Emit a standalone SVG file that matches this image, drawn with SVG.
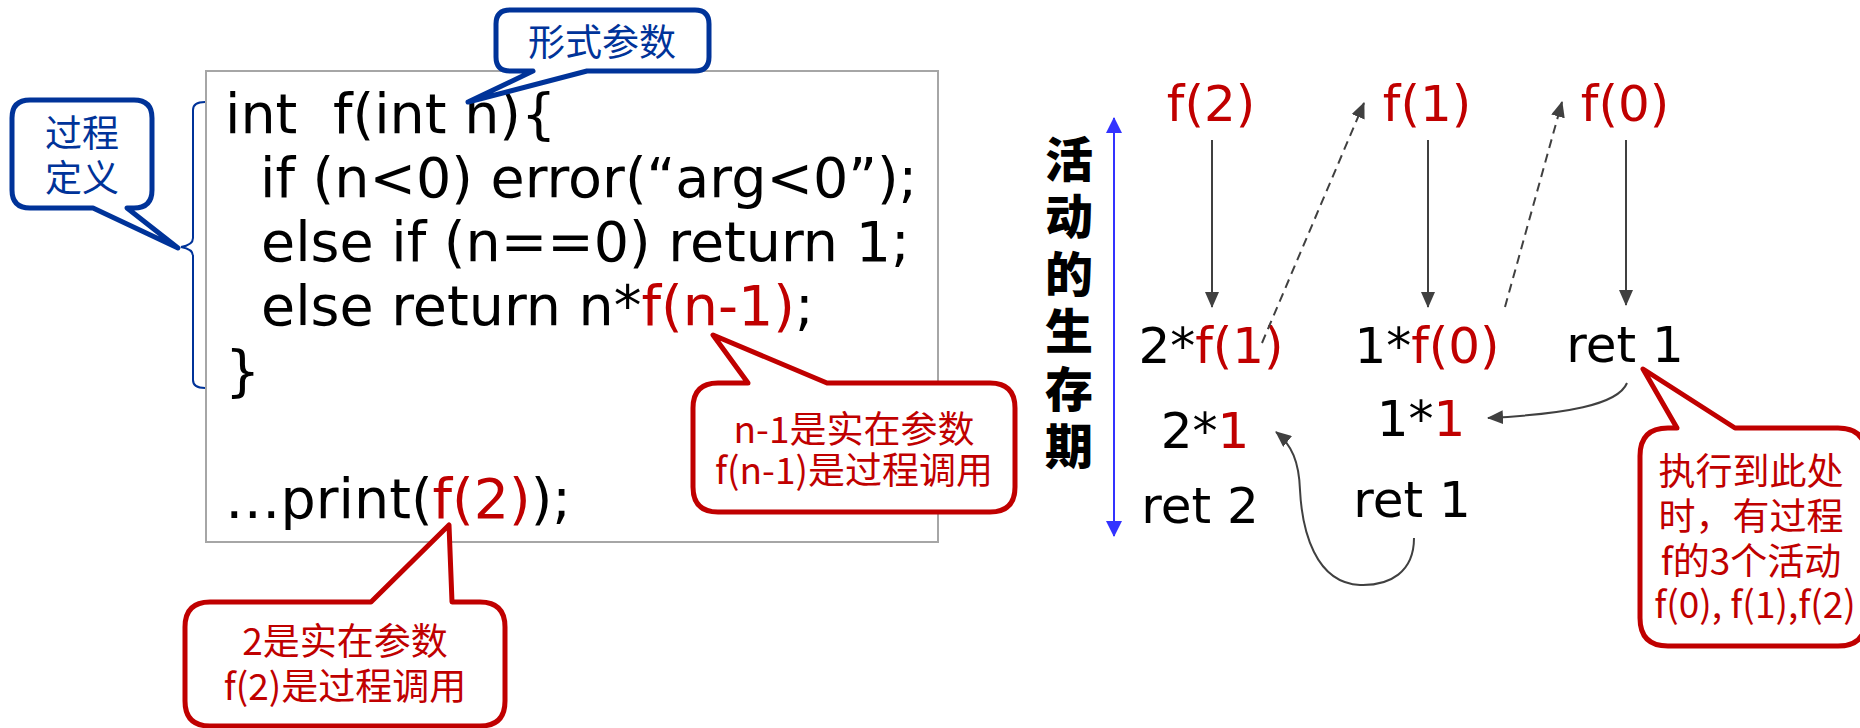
<svg xmlns="http://www.w3.org/2000/svg" width="1860" height="728" viewBox="0 0 1860 728">
<style>
.code{font-family:"DejaVu Sans",Verdana,sans-serif;font-size:55.5px;fill:#000}
.lbl{font-family:"DejaVu Sans",Verdana,sans-serif;font-size:50px;fill:#000}
.red{fill:#c00000}
.bt{font-family:"Noto Sans CJK SC",sans-serif;font-size:37px;fill:#003399;text-anchor:middle}
.rt{font-family:"Noto Sans CJK SC",sans-serif;font-size:37px;fill:#c00000;text-anchor:middle}
.vt{font-family:"Noto Sans CJK SC",sans-serif;font-size:48px;font-weight:900;fill:#000;text-anchor:middle}
.bc{fill:#fff;stroke:#003399;stroke-width:5;stroke-linejoin:round}
.rc{fill:#fff;stroke:#c00000;stroke-width:5;stroke-linejoin:round}
.con{fill:none;stroke:#404040;stroke-width:2}
.dash{stroke-dasharray:9 6}
</style>
<defs>
<marker id="ah" viewBox="0 0 16 14" refX="15" refY="7" markerWidth="16" markerHeight="14" orient="auto" markerUnits="userSpaceOnUse"><path d="M0,0 L16,7 L0,14 Z" fill="#404040"/></marker>
<marker id="bh" viewBox="0 0 16 16" refX="15" refY="8" markerWidth="16" markerHeight="16" orient="auto-start-reverse" markerUnits="userSpaceOnUse"><path d="M0,0 L16,8 L0,16 Z" fill="#3333ff"/></marker>
</defs>

<g id="code">
<rect x="206" y="71" width="732" height="471" fill="#fff" stroke="#a6a6a6" stroke-width="2"/>
<text class="code" x="225" y="133">int</text>
<text class="code" x="333" y="133">f(int n){</text>
<text class="code" x="260" y="197">if (n&lt;0) error(“arg&lt;0”);</text>
<text class="code" x="261" y="261">else if (n==0) return 1;</text>
<text class="code" x="261" y="325">else return n*<tspan class="red">f(n-1)</tspan>;</text>
<text class="code" x="225" y="390">}</text>
<text class="code" x="225" y="518">…print(<tspan class="red">f(2)</tspan>);</text>
</g>

<g id="brace">
<path d="M205,102 Q193,102 193,110 L193,238 Q193,245 181,247 Q193,249 193,256 L193,380 Q193,388 205,388" fill="none" stroke="#003399" stroke-width="2"/>
</g>

<g id="callout-def">
<path class="bc" d="M30,100 H134 Q152,100 152,118 V190 Q152,208 134,208 H127 L178,248 L93,208 H30 Q12,208 12,190 V118 Q12,100 30,100 Z"/>
<text class="bt"><tspan x="82" y="147">过程</tspan><tspan x="82" y="192">定义</tspan></text>
</g>

<g id="callout-formal">
<path class="bc" d="M510,10 H695 Q709,10 709,24 V57 Q709,71 695,71 H587 L468,102 L533,71 H510 Q496,71 496,57 V24 Q496,10 510,10 Z"/>
<text class="bt" x="602" y="56">形式参数</text>
</g>

<g id="callout-n1">
<path class="rc" d="M718,383 H748 L713,335 L827,383 H990 Q1015,383 1015,408 V487 Q1015,512 990,512 H718 Q693,512 693,487 V408 Q693,383 718,383 Z"/>
<text class="rt"><tspan x="854" y="443">n-1是实在参数</tspan><tspan x="854" y="484">f(n-1)是过程调用</tspan></text>
</g>

<g id="callout-2">
<path class="rc" d="M210,602 H371 L449,525 L452,602 H480 Q505,602 505,627 V701 Q505,726 480,726 H210 Q185,726 185,701 V627 Q185,602 210,602 Z"/>
<text class="rt"><tspan x="345" y="655">2是实在参数</tspan><tspan x="345" y="700">f(2)是过程调用</tspan></text>
</g>

<g id="callout-now">
<path class="rc" d="M1668,428 H1677 L1643,369 L1735,428 H1838 Q1866,428 1866,456 V618 Q1866,646 1838,646 H1668 Q1640,646 1640,618 V456 Q1640,428 1668,428 Z"/>
<text class="rt"><tspan x="1751" y="485">执行到此处</tspan><tspan x="1751" y="530">时，有过程</tspan><tspan x="1751" y="575">f的3个活动</tspan><tspan x="1755" y="618">f(0), f(1),f(2)</tspan></text>
</g>

<g id="lifetime">
<text class="vt"><tspan x="1069" y="177">活</tspan><tspan x="1069" y="234">动</tspan><tspan x="1069" y="292">的</tspan><tspan x="1069" y="349">生</tspan><tspan x="1069" y="407">存</tspan><tspan x="1069" y="464">期</tspan></text>
<line x1="1114" y1="118" x2="1114" y2="536" stroke="#3333ff" stroke-width="2" marker-start="url(#bh)" marker-end="url(#bh)"/>
</g>

<g id="f2"><text class="lbl red" x="1211" y="121" text-anchor="middle">f(2)</text></g>
<g id="f1"><text class="lbl red" x="1427" y="121" text-anchor="middle">f(1)</text></g>
<g id="f0"><text class="lbl red" x="1625" y="121" text-anchor="middle">f(0)</text></g>
<g id="n2f1"><text class="lbl" x="1211" y="363" text-anchor="middle">2*<tspan class="red">f(1)</tspan></text></g>
<g id="n1f0"><text class="lbl" x="1427" y="363" text-anchor="middle">1*<tspan class="red">f(0)</tspan></text></g>
<g id="ret1a"><text class="lbl" x="1625" y="362" text-anchor="middle">ret 1</text></g>
<g id="n21"><text class="lbl" x="1205" y="448" text-anchor="middle">2*<tspan class="red">1</tspan></text></g>
<g id="n11"><text class="lbl" x="1421" y="436" text-anchor="middle">1*<tspan class="red">1</tspan></text></g>
<g id="ret2"><text class="lbl" x="1200" y="523" text-anchor="middle">ret 2</text></g>
<g id="ret1b"><text class="lbl" x="1412" y="517" text-anchor="middle">ret 1</text></g>

<g id="connectors">
<line class="con" x1="1212" y1="140" x2="1212" y2="307" marker-end="url(#ah)"/>
<line class="con" x1="1428" y1="140" x2="1428" y2="307" marker-end="url(#ah)"/>
<line class="con" x1="1626" y1="140" x2="1626" y2="305" marker-end="url(#ah)"/>
<line class="con dash" x1="1262" y1="343" x2="1364" y2="103" marker-end="url(#ah)"/>
<line class="con dash" x1="1505" y1="307" x2="1562" y2="102" marker-end="url(#ah)"/>
<path class="con" d="M1627,383 C1618,405 1565,414 1488,418" marker-end="url(#ah)"/>
<path class="con" d="M1414,538 C1414,572 1390,586 1360,585 C1315,583 1302,530 1300,490 C1299,462 1292,445 1276,432" marker-end="url(#ah)"/>
</g>
</svg>
